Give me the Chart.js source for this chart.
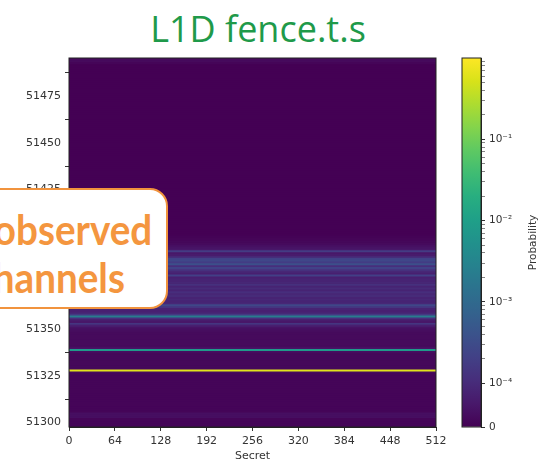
<!DOCTYPE html>
<html lang="en">
<head>
  <meta charset="UTF-8" />
  <title>L1D fence.t.s</title>
  <script src="https://cdn.jsdelivr.net/npm/chart.js"></script>
  <style>
    * { box-sizing: border-box; margin: 0; padding: 0; }
    body { width: 544px; height: 463px; background: #fff; position: relative; overflow: hidden; }
    canvas { position: absolute; left: 0; top: 0; }
    .title {
      position: absolute; left: 0; top: 7px; width: 516px; text-align: center;
      font-family: 'Open Sans', sans-serif; font-size: 36px; line-height: 1.2; color: #1f9a4a;
    }
    .note {
      position: absolute; left: -60px; top: 188px; width: 228px; height: 121px;
      background: #fff; border: 2.5px solid #f1933d; border-radius: 18px;
    }
    .note span {
      position: absolute; font-family: Lato, sans-serif; font-weight: 700; font-size: 42px;
      line-height: 1; color: #f4963f; white-space: nowrap;
      transform: scaleX(0.92); transform-origin: right center;
    }
  </style>
</head>
<body>
  <div class="title">L1D fence.t.s</div>
  <canvas id="heat" width="544" height="463"></canvas>
  <canvas id="bar" width="544" height="463"></canvas>
  <div class="note">
    <span style="right: 14px; top: 18px;">observed</span>
    <span style="right: 41px; top: 66px;">channels</span>
  </div>

  <script>
    // axes
    const secretTicks = [0, 64, 128, 192, 256, 320, 384, 448, 512];
    const addrTicks = [51300, 51325, 51350, 51375, 51400, 51425, 51450, 51475];
    const addrFirst = 51298;
    const addrLast = 51495;

    // rows with non-zero probability (same value across every secret), all others are 0
    const hotAddr = [
      51495, 51494, 51493,
      51400, 51399, 51398, 51397, 51396, 51395, 51394, 51393, 51392, 51391, 51390,
      51389, 51388, 51387, 51386, 51385, 51384, 51383, 51382, 51381, 51380,
      51379, 51378, 51377, 51376, 51375, 51374, 51373, 51372, 51371, 51370,
      51369, 51368, 51367, 51366, 51365, 51364, 51363, 51362, 51361, 51360,
      51359, 51358, 51357, 51356, 51355, 51354, 51353, 51352, 51351, 51350,
      51349, 51348, 51347, 51346, 51345, 51344, 51343, 51342, 51341, 51340,
      51339, 51338, 51337, 51336, 51335, 51334, 51333, 51332, 51331, 51330,
      51329, 51328, 51327, 51326, 51325, 51324, 51323, 51322, 51321, 51320,
      51319, 51318, 51317, 51316, 51315, 51314, 51313, 51312, 51311, 51310,
      51309, 51308, 51307, 51306, 51305, 51304, 51303, 51302, 51301, 51300,
      51299, 51298
    ];
    const hotProb = [
      2e-5, 2e-5, 1e-5,
      5e-6, 8e-6, 1e-5, 1.5e-5, 2e-5, 3e-5, 4e-5, 5e-5, 1.8e-4, 5e-5, 6e-5,
      9e-5, 2.2e-4, 2.6e-4, 1.8e-4, 3.5e-4, 1.1e-4, 2.2e-4, 1.4e-4, 9e-5, 7e-5,
      2e-4, 7e-5, 8e-5, 8e-5, 9e-5, 1.2e-4, 8e-5, 1e-4, 8e-5, 1.1e-4,
      9e-5, 1e-4, 8e-5, 9e-5, 8e-5, 9e-5, 2.6e-4, 1.4e-4, 8e-5, 7e-5,
      8e-5, 1.6e-4, 2.2e-3, 1.2e-4, 6e-5, 5e-5, 1.4e-4, 7e-5, 4e-5, 3e-5,
      2.5e-5, 2e-5, 2e-5, 2e-5, 2e-5, 2e-5, 2e-5, 2e-5, 2e-5, 4e-5,
      8e-3, 3e-5, 1.5e-5, 1.5e-5, 1.5e-5, 1.5e-5, 1.5e-5, 1.5e-5, 1.5e-5, 1.5e-5,
      1.5e-5, 0.6, 2e-5, 1e-5, 1e-5, 1e-5, 1e-5, 1e-5, 1e-5, 1e-5,
      1e-5, 1e-5, 1e-5, 1e-5, 1e-5, 1e-5, 1e-5, 1e-5, 1e-5, 1e-5,
      1e-5, 1e-5, 1e-5, 1e-5, 3e-5, 3e-5, 3e-5, 1e-5, 1e-5, 1e-5,
      1e-5, 1e-5
    ];

    // colorbar (symlog norm)
    const cbMajor = [0, 1e-4, 1e-3, 1e-2, 1e-1];
    const cbMajorLabels = ['0', '10⁻⁴', '10⁻³', '10⁻²', '10⁻¹'];
    const cbMinor = [
      2e-4, 3e-4, 4e-4, 5e-4, 6e-4, 7e-4, 8e-4, 9e-4,
      2e-3, 3e-3, 4e-3, 5e-3, 6e-3, 7e-3, 8e-3, 9e-3,
      2e-2, 3e-2, 4e-2, 5e-2, 6e-2, 7e-2, 8e-2, 9e-2,
      2e-1, 3e-1, 4e-1, 5e-1, 6e-1, 7e-1, 8e-1, 9e-1
    ];
    const linThresh = 1e-4, linScale = 0.54, vMax = 1;

    const viridis = ['#440154', '#48186a', '#472d7b', '#424086', '#3b528b', '#33638d', '#2c728e', '#26828e',
      '#21918c', '#1fa088', '#28ae80', '#3fbc73', '#5ec962', '#84d44b', '#addc30', '#d8e219', '#fde725'];

    function symlog(v) {
      return v <= linThresh ? linScale * v / linThresh : linScale + Math.log10(v / linThresh);
    }
    const tMax = symlog(vMax);

    function hex(h) { return [1, 3, 5].map(i => parseInt(h.substr(i, 2), 16)); }
    function cmap(f) {
      f = Math.min(1, Math.max(0, f)) * (viridis.length - 1);
      const i = Math.min(viridis.length - 2, Math.floor(f)), k = f - i;
      const a = hex(viridis[i]), b = hex(viridis[i + 1]);
      return 'rgb(' + a.map((c, j) => Math.round(c + (b[j] - c) * k)).join(',') + ')';
    }
    const colorOf = v => cmap(symlog(v) / tMax);

    const tickFont = { family: 'DejaVu Sans', size: 11 };
    const tickColor = '#333';

    const frame = {
      id: 'frame',
      beforeDatasetsDraw(chart) {
        if (chart.canvas.id !== 'heat') return;
        const a = chart.chartArea, c = chart.ctx;
        c.fillStyle = colorOf(0);
        c.fillRect(a.left, a.top, a.width, a.height);
      },
      afterDatasetsDraw(chart) {
        const a = chart.chartArea, c = chart.ctx;
        c.save();
        c.strokeStyle = '#222';
        c.lineWidth = 1;
        c.strokeRect(a.left, a.top, a.width, a.height);
        c.restore();
      }
    };

    const rows = [];
    for (let a = addrFirst; a <= addrLast; a++) {
      const k = hotAddr.indexOf(a);
      rows.push({ addr: a, p: k < 0 ? 0 : hotProb[k] });
    }

    new Chart(document.getElementById('heat'), {
      type: 'bar',
      data: {
        datasets: [{
          data: rows.map(r => ({ y: r.addr, x: [0, 512] })),
          backgroundColor: rows.map(r => colorOf(r.p)),
          borderWidth: 0,
          barPercentage: 1,
          categoryPercentage: 1
        }]
      },
      options: {
        indexAxis: 'y',
        responsive: false,
        animation: false,
        events: [],
        devicePixelRatio: 1,
        layout: { padding: { top: 58, right: 108, left: 0, bottom: 0 } },
        plugins: { legend: { display: false }, tooltip: { enabled: false } },
        scales: {
          x: {
            type: 'linear', min: 0, max: 512, offset: false,
            afterBuildTicks: s => { s.ticks = secretTicks.map(v => ({ value: v })); },
            afterFit: s => { s.height = 36; },
            ticks: { autoSkip: false, maxRotation: 0, padding: 4, font: tickFont, color: tickColor, callback: v => String(v) },
            grid: { drawOnChartArea: false, tickLength: 4, color: '#333' },
            border: { color: '#222' },
            title: { display: true, text: 'Secret', font: tickFont, color: tickColor, padding: 0 }
          },
          y: {
            type: 'linear', min: addrFirst - 0.5, max: addrLast + 0.5, offset: false,
            afterBuildTicks: s => { s.ticks = addrTicks.map(v => ({ value: v })); },
            afterFit: s => { s.width = 69; },
            ticks: { autoSkip: false, padding: 4, font: tickFont, color: tickColor, callback: v => String(v) },
            grid: { drawOnChartArea: false, tickLength: 4, color: '#333' },
            border: { color: '#222' }
          }
        }
      },
      plugins: [frame]
    });

    const cbLabel = {
      id: 'cbLabel',
      afterDraw(chart) {
        const c = chart.ctx, a = chart.chartArea;
        c.save();
        c.translate(533, (a.top + a.bottom) / 2);
        c.rotate(-Math.PI / 2);
        c.font = '10.5px "DejaVu Sans"';
        c.fillStyle = tickColor;
        c.textAlign = 'center';
        c.textBaseline = 'middle';
        c.fillText('Probability', 0, 0);
        c.restore();
      }
    };

    const cbTickVals = cbMajor.concat(cbMinor).map(symlog);
    new Chart(document.getElementById('bar'), {
      type: 'bar',
      data: {
        labels: ['Probability'],
        datasets: [{
          data: [[0, tMax]],
          backgroundColor: ctx => {
            const { ctx: c, chartArea: a } = ctx.chart;
            if (!a) return colorOf(0);
            const g = c.createLinearGradient(0, a.bottom, 0, a.top);
            viridis.forEach((col, i) => g.addColorStop(i / (viridis.length - 1), col));
            return g;
          },
          borderWidth: 0,
          barPercentage: 1,
          categoryPercentage: 1
        }]
      },
      options: {
        responsive: false,
        animation: false,
        events: [],
        devicePixelRatio: 1,
        layout: { padding: { top: 58, right: 0, left: 462, bottom: 36 } },
        plugins: { legend: { display: false }, tooltip: { enabled: false } },
        scales: {
          x: { display: false },
          y: {
            type: 'linear', position: 'right', min: 0, max: tMax,
            afterBuildTicks: s => { s.ticks = cbTickVals.map(v => ({ value: v })); },
            afterFit: s => { s.width = 63; },
            ticks: {
              autoSkip: false, padding: 4, font: { family: 'DejaVu Sans', size: 10.5 }, color: tickColor,
              callback: (v, i) => i < cbMajor.length ? cbMajorLabels[i] : ''
            },
            grid: {
              drawOnChartArea: false, tickLength: 4, color: '#333',
              lineWidth: ctx => ctx.index < cbMajor.length ? 1 : 0.6
            },
            border: { color: '#222' }
          }
        }
      },
      plugins: [frame, cbLabel]
    });
  </script>
</body>
</html>
